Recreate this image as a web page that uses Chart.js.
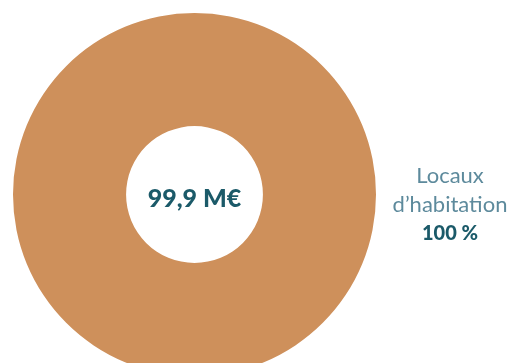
<!DOCTYPE html>
<html>
<head>
<meta charset="utf-8">
<script src="https://cdn.jsdelivr.net/npm/chart.js@4/dist/chart.umd.min.js"></script>
<style>
  html, body { margin: 0; padding: 0; background: #fff; overflow: hidden; }
  body { width: 508px; height: 363px; position: relative; }
  #chart { position: absolute; left: 0; top: 0; }
</style>
</head>
<body>
<canvas id="chart" width="508" height="389"></canvas>
<script>
// Data
const categories = ['Locaux d’habitation'];
const shares = [100];
const shareLabels = ['100 %'];
const totalLabel = '99,9 M€';
const sliceColors = ['#CE905B'];

// Center total + side label
const labelsPlugin = {
    id: 'labels',
    afterDraw(chart) {
        const ctx = chart.ctx;
        const arc = chart.getDatasetMeta(0).data[0];
        ctx.save();
        ctx.textAlign = 'center';
        ctx.textBaseline = 'alphabetic';
        ctx.fillStyle = '#1B5A69';
        ctx.font = '900 25px Lato';
        ctx.fillText(totalLabel, arc.x, arc.y + 12);

        const words = categories[0].split(' ');
        const lx = 450;
        ctx.fillStyle = '#5D8A9C';
        ctx.font = '22px Lato';
        ctx.fillText(words[0], lx, 183);
        ctx.fillText(words[1], lx, 212);
        ctx.fillStyle = '#1B5A69';
        ctx.font = '900 20px Lato';
        ctx.fillText(shareLabels[0], lx, 240);
        ctx.restore();
    }
};

new Chart(document.getElementById('chart'), {
    type: 'doughnut',
    data: {
        labels: categories,
        datasets: [{
            data: shares,
            backgroundColor: sliceColors,
            borderWidth: 0,
            hoverOffset: 0
        }]
    },
    options: {
        responsive: false,
        animation: false,
        cutout: '37.7%',
        layout: { padding: { left: 13, top: 13, right: 132, bottom: 13 } },
        plugins: {
            legend: { display: false },
            tooltip: { enabled: false }
        }
    },
    plugins: [labelsPlugin]
});
</script>
</body>
</html>
